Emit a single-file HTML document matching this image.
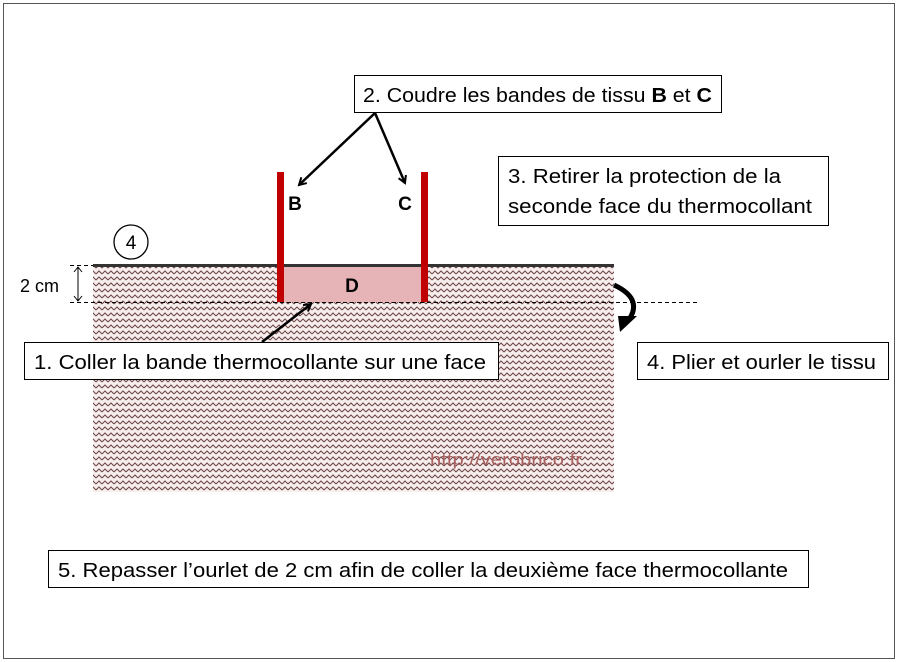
<!DOCTYPE html>
<html><head><meta charset="utf-8"><style>
html,body{margin:0;padding:0;background:#fff}
</style></head><body>
<svg width="898" height="662" xmlns="http://www.w3.org/2000/svg" style="display:block;font-family:'Liberation Sans',sans-serif">
<defs>
<pattern id="hb" width="6" height="6" patternUnits="userSpaceOnUse">
<rect width="6" height="6" fill="#f8eded"/>
<path d="M0,4 L3,1 L6,4" fill="none" stroke="#6a4646" stroke-width="1"/>
</pattern>
<marker id="ar" markerWidth="10" markerHeight="10" refX="8" refY="5" orient="auto" markerUnits="userSpaceOnUse">
<path d="M1,1 L8,5 L1,9" fill="none" stroke="#000" stroke-width="2"/>
</marker>
</defs>
<rect x="3.5" y="3.5" width="891" height="655" fill="#fff" stroke="#555" stroke-width="1"/>
<rect x="93" y="265" width="521" height="227" fill="url(#hb)"/>
<rect x="284" y="266" width="137" height="36" fill="#e6b3b6"/>
<line x1="93" y1="265.5" x2="614" y2="265.5" stroke="#333" stroke-width="3"/>
<line x1="70" y1="302.5" x2="700" y2="302.5" stroke="#000" stroke-width="1" stroke-dasharray="4,3"/>
<line x1="70" y1="265.5" x2="93" y2="265.5" stroke="#000" stroke-width="1" stroke-dasharray="4,3"/>
<rect x="277" y="172" width="7" height="130" fill="#c00000"/>
<rect x="421" y="172" width="7" height="130" fill="#c00000"/>
<text x="352" y="292" font-size="19" font-weight="bold" text-anchor="middle">D</text>
<text x="295" y="210" font-size="19" font-weight="bold" text-anchor="middle">B</text>
<text x="405" y="210" font-size="19" font-weight="bold" text-anchor="middle">C</text>
<circle cx="131" cy="242" r="17" fill="#fff" stroke="#000" stroke-width="1.3"/>
<text x="131" y="249" font-size="19" text-anchor="middle">4</text>
<text x="20" y="292" font-size="18">2 cm</text>
<line x1="78" y1="267" x2="78" y2="301" stroke="#000" stroke-width="1"/>
<path d="M74,272 L78,267 L82,272 M74,296 L78,301 L82,296" fill="none" stroke="#000"/>
<line x1="375" y1="113" x2="299" y2="185" stroke="#000" stroke-width="2.5" marker-end="url(#ar)"/>
<line x1="375" y1="113" x2="405" y2="183" stroke="#000" stroke-width="2.5" marker-end="url(#ar)"/>
<line x1="262" y1="342" x2="311" y2="304" stroke="#000" stroke-width="2.5" marker-end="url(#ar)"/>
<path d="M614,285 Q642,298 630,318" fill="none" stroke="#000" stroke-width="5"/>
<path d="M618,316 L637,316 L620,332 Z" fill="#000"/>
<text x="430" y="465" font-size="17" fill="#a86060" textLength="152" lengthAdjust="spacingAndGlyphs">http://verobrico.fr</text>
<g font-size="20" fill="#000">
<rect x="354.5" y="75.5" width="367" height="37" fill="#fff" stroke="#000"/>
<text x="363" y="102" textLength="349" lengthAdjust="spacingAndGlyphs">2. Coudre les bandes de tissu <tspan font-weight="bold">B</tspan> et <tspan font-weight="bold">C</tspan></text>
<rect x="498.5" y="156.5" width="330" height="69" fill="#fff" stroke="#000"/>
<text x="508" y="183" textLength="273" lengthAdjust="spacingAndGlyphs">3. Retirer la protection de la</text>
<text x="508" y="213" textLength="304" lengthAdjust="spacingAndGlyphs">seconde face du thermocollant</text>
<rect x="24.5" y="342.5" width="474" height="37" fill="#fff" stroke="#000"/>
<text x="34" y="369" textLength="452" lengthAdjust="spacingAndGlyphs">1. Coller la bande thermocollante sur une face</text>
<rect x="637.5" y="342.5" width="251" height="37" fill="#fff" stroke="#000"/>
<text x="647" y="369" textLength="229" lengthAdjust="spacingAndGlyphs">4. Plier et ourler le tissu</text>
<rect x="48.5" y="550.5" width="760" height="37" fill="#fff" stroke="#000"/>
<text x="58" y="577" textLength="730" lengthAdjust="spacingAndGlyphs">5. Repasser l’ourlet de 2 cm afin de coller la deuxième face thermocollante</text>
</g>
</svg>
</body></html>
